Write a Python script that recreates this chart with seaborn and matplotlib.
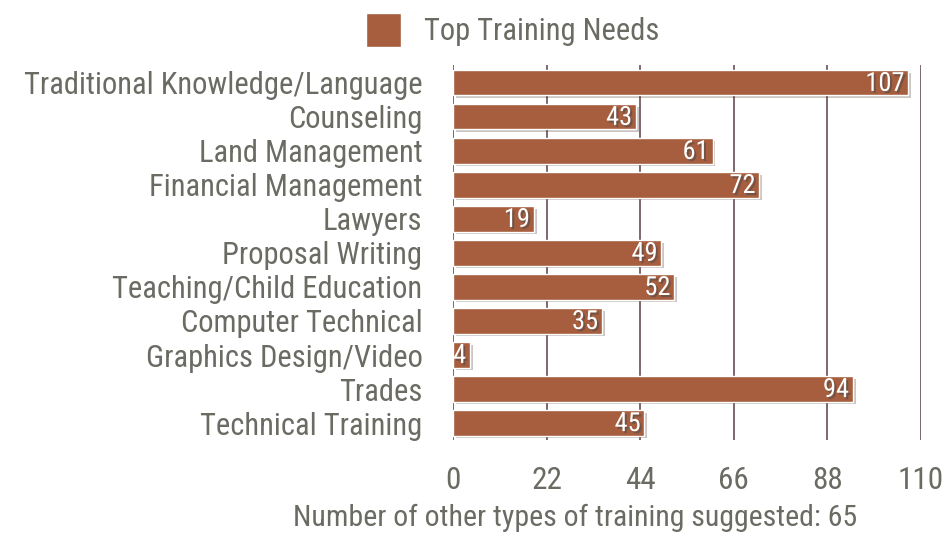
import matplotlib.pyplot as plt
import matplotlib.patheffects as pe
import seaborn as sns
import pandas as pd

categories = ["Traditional Knowledge/Language", "Counseling", "Land Management",
              "Financial Management", "Lawyers", "Proposal Writing",
              "Teaching/Child Education", "Computer Technical",
              "Graphics Design/Video", "Trades", "Technical Training"]
counts = [107, 43, 61, 72, 19, 49, 52, 35, 4, 94, 45]
x_ticks = [0, 22, 44, 66, 88, 110]

sns.set_style("white")
plt.rcParams['font.family'] = ['Roboto Condensed', 'DejaVu Sans']

bar_color = "#a65e3e"
text_color = "#6b6b64"
grid_color = "#5b3f44"

df = pd.DataFrame({"need": categories, "count": counts})

fig = plt.figure(figsize=(9.49, 5.36), dpi=100)
ax = fig.add_axes([0.4773, 0.179, 0.4932, 0.700])

sns.barplot(data=df, x="count", y="need", orient="h", color=bar_color,
            width=0.74, saturation=1, ax=ax, label="Top Training Needs",
            zorder=3)

leg = ax.legend(loc="center", bbox_to_anchor=(0.128, 1.093), frameon=False,
                fontsize=22, handlelength=1.15, handleheight=1.3, handletextpad=0.75)
for t in leg.get_texts():
    t.set_color(text_color)

for p in ax.patches:
    p.set_path_effects([pe.SimplePatchShadow(offset=(2, -2), alpha=0.25), pe.Normal()])

for i, v in enumerate(counts):
    ax.text(v - 0.9, i + 0.03, str(v), ha="right", va="center", color="white",
            fontsize=19, zorder=4,
            path_effects=[pe.withSimplePatchShadow(offset=(1.5, -1.5), alpha=0.6)])

ax.set_xlim(0, 110)
ax.set_ylim(10.5, -0.53)
ax.set_xticks(x_ticks)
ax.xaxis.grid(True, color=grid_color, linewidth=1.1, zorder=0)
ax.set_axisbelow(True)
for s in ax.spines.values():
    s.set_visible(False)
ax.tick_params(axis="x", length=0, pad=19, labelsize=22.5, labelcolor=text_color)
ax.tick_params(axis="y", length=0, pad=22, labelsize=22, labelcolor=text_color)
ax.set_ylabel("")
ax.set_xlabel("Number of other types of training suggested: 65", fontsize=21.5,
              color=text_color)
ax.xaxis.set_label_coords(0.26, -0.17)

fig.savefig("out.png", dpi=100)
